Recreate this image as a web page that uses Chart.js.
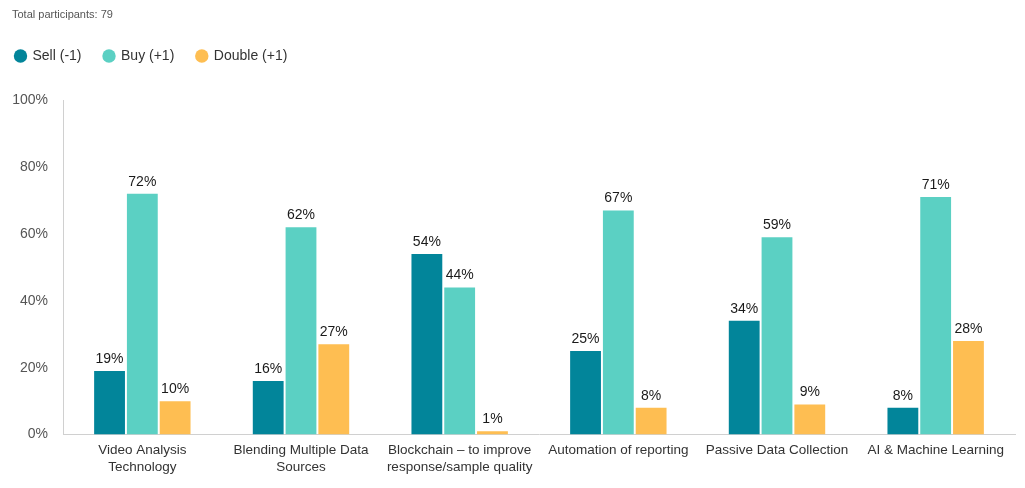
<!DOCTYPE html>
<html lang="en">
<head>
  <meta charset="UTF-8" />
  <title>Total participants: 79</title>
  <script src="https://cdn.jsdelivr.net/npm/chart.js"></script>
  <style>
    html, body { margin: 0; padding: 0; background: #fff; }
    #wrap { width: 1025px; height: 488px; position: relative; }
    #note {
      position: absolute; left: 12px; top: 8px;
      font: 11px/13px "Liberation Sans", Arial, Helvetica, sans-serif;
      color: #555;
    }
  </style>
</head>
<body>
  <div id="wrap">
    <div id="note">Total participants: 79</div>
    <canvas id="chart"></canvas>
  </div>
  <script>
    const categories = [
      ['Video Analysis', 'Technology'],
      ['Blending Multiple Data', 'Sources'],
      ['Blockchain \u2013 to improve', 'response/sample quality'],
      'Automation of reporting',
      'Passive Data Collection',
      'AI & Machine Learning'
    ];
    const sellValues = [19, 16, 54, 25, 34, 8];
    const buyValues = [72, 62, 44, 67, 59, 71];
    const doubleValues = [10, 27, 1, 8, 9, 28];
    const yTicks = [0, 20, 40, 60, 80, 100];

    const fontFamily = '"Liberation Sans", Arial, Helvetica, sans-serif';

    // draws the % labels above each bar
    const barLabels = {
      id: 'barLabels',
      afterDatasetsDraw(chart) {
        const ctx = chart.ctx;
        ctx.save();
        ctx.font = '14px ' + fontFamily;
        ctx.fillStyle = '#1a1a1a';
        ctx.textAlign = 'center';
        ctx.textBaseline = 'bottom';
        chart.data.datasets.forEach((ds, i) => {
          chart.getDatasetMeta(i).data.forEach((bar, j) => {
            ctx.fillText(ds.data[j] + '%', bar.x, bar.y - 5);
          });
        });
        ctx.restore();
      }
    };

    // leave more room under the legend
    const legendGap = {
      id: 'legendGap',
      beforeInit(chart) {
        const fit = chart.legend.fit;
        chart.legend.fit = function () {
          fit.call(this);
          this.height = 73.5;
        };
      }
    };

    new Chart(document.getElementById('chart'), {
      type: 'bar',
      data: {
        labels: categories,
        datasets: [
          { label: 'Sell (-1)', data: sellValues, backgroundColor: '#02859A' },
          { label: 'Buy (+1)', data: buyValues, backgroundColor: '#5BD0C3' },
          { label: 'Double (+1)', data: doubleValues, backgroundColor: '#FEBE52' }
        ]
      },
      options: {
        responsive: true,
        maintainAspectRatio: false,
        animation: false,
        layout: { padding: { left: -7, right: 10, top: 26.5, bottom: 5 } },
        datasets: {
          bar: { categoryPercentage: 0.62, barPercentage: 0.94 }
        },
        plugins: {
          legend: {
            align: 'start',
            labels: {
              usePointStyle: true,
              pointStyle: 'circle',
              boxWidth: 10,
              boxHeight: 9.5,
              padding: 22.5,
              color: '#333',
              font: { family: fontFamily, size: 14 }
            }
          },
          tooltip: { enabled: false }
        },
        scales: {
          x: {
            grid: { display: false, drawTicks: false },
            border: { color: '#d0d0d0' },
            ticks: {
              color: '#333',
              font: { family: fontFamily, size: 13.5 },
              maxRotation: 0,
              autoSkip: false,
              padding: 8
            }
          },
          y: {
            min: 0,
            max: 100,
            grid: { display: false, drawTicks: false },
            border: { color: '#d0d0d0' },
            afterFit(axis) {
              axis.width = 70;
            },
            afterBuildTicks(axis) {
              axis.ticks = yTicks.map(v => ({ value: v }));
            },
            ticks: {
              color: '#555',
              font: { family: fontFamily, size: 14 },
              padding: 15,
              callback: v => v + '%'
            }
          }
        }
      },
      plugins: [barLabels, legendGap]
    });
  </script>
</body>
</html>
